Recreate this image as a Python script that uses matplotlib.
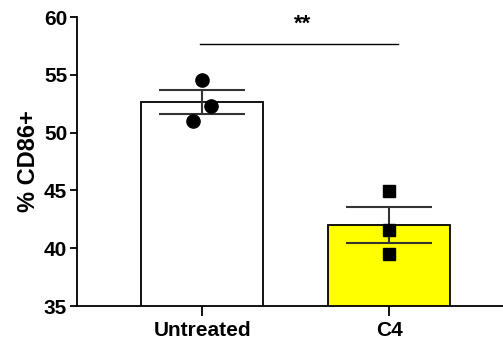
import numpy as np
import matplotlib
matplotlib.use("Agg")
from matplotlib import pyplot as plt

plt.rcParams['font.family'] = ['Liberation Sans', 'DejaVu Sans']
plt.rcParams['font.weight'] = 'bold'

groups = ['Untreated', 'C4']
bar_colors = ['white', '#ffff00']
untreated_pts = [54.55, 52.33, 51.0]
c4_pts = [44.95, 41.57, 39.5]
points = [untreated_pts, c4_pts]
markers = ['o', 's']
means = [np.mean(p) for p in points]
sems = [np.std(p, ddof=1) / np.sqrt(len(p)) for p in points]

fig = plt.figure(figsize=(5.03, 3.47), dpi=100)
ax = fig.add_axes([0.153, 0.118, 0.847, 0.833])

x = np.arange(len(groups))
ax.bar(x, means, width=0.65, color=bar_colors, edgecolor='black',
       linewidth=1.3, zorder=1)
ax.errorbar(x, means, yerr=sems, fmt='none', ecolor='#333333',
            elinewidth=1.5, capsize=31, capthick=1.5, zorder=3)
for i, pts in enumerate(points):
    ax.plot([x[i]] * len(pts), pts, linestyle='none', marker=markers[i],
            color='black', ms=9.5 if markers[i] == 'o' else 8.5, zorder=4)
# circles are a bit spread out sideways in the original
ax.lines[-2].set_xdata([x[0], x[0] + 0.05, x[0] - 0.05])

ax.set_ylim(35, 60)
ax.set_yticks([35, 40, 45, 50, 55, 60])
ax.set_xlim(-0.67, 1.61)
ax.set_xticks(x)
ax.set_xticklabels(groups, fontsize=15, fontweight='bold')
ax.tick_params(axis='y', labelsize=15, width=1.3, length=5, pad=2)
ax.tick_params(axis='x', width=1.3, length=7, pad=4)
for lbl in ax.get_yticklabels():
    lbl.set_fontweight('bold')
ax.set_ylabel('% CD86+', fontsize=17, fontweight='bold', labelpad=3)

ax.spines['top'].set_visible(False)
ax.spines['right'].set_visible(False)
ax.spines['left'].set_linewidth(1.3)
ax.spines['bottom'].set_linewidth(1.3)

# significance bar
ax.plot([-0.01, 1.05], [57.66, 57.66], color='black', linewidth=1.0, clip_on=False)
ax.text(0.54, 58.9, '**', ha='center', va='baseline', fontsize=16, fontweight='bold')

fig.savefig('out.png', dpi=100)
